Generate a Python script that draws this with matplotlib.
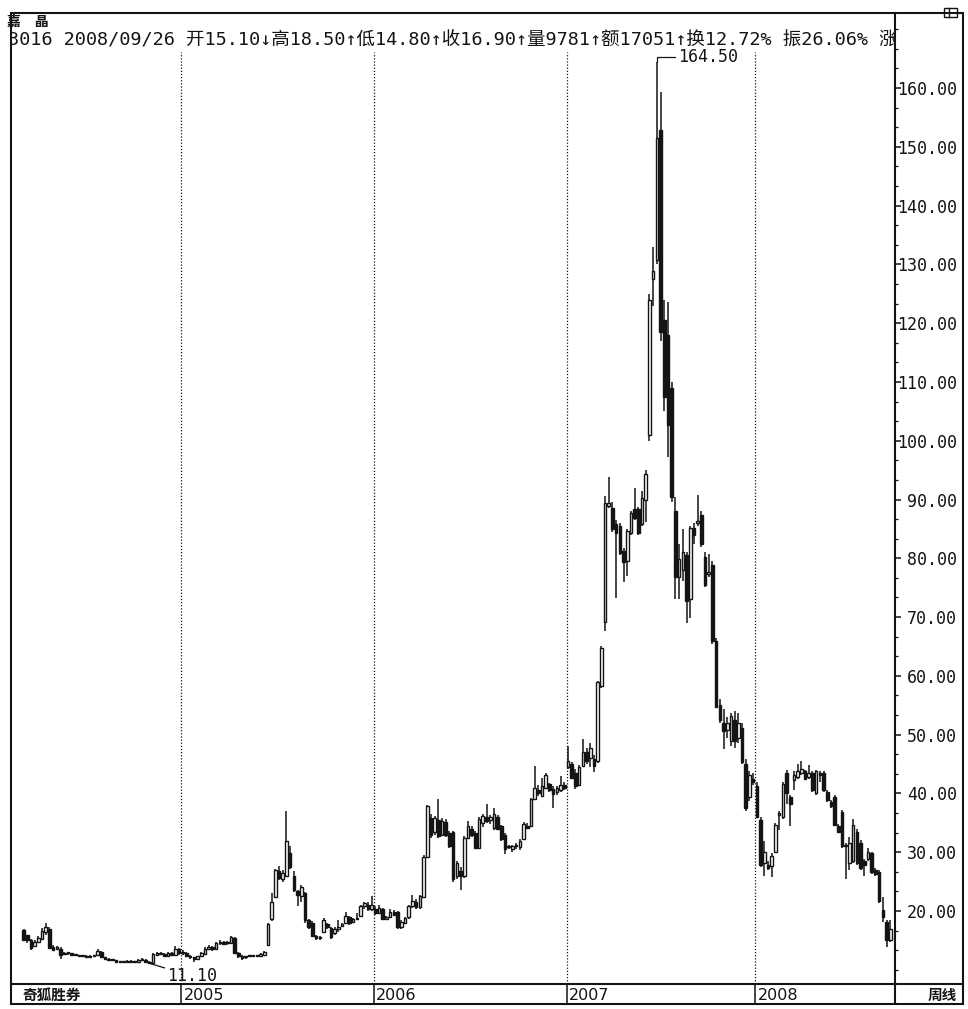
import numpy as np
import matplotlib.pyplot as plt
from matplotlib.patches import Rectangle

# weekly bars of 3016 嘉晶, early 2004 .. 2008/09/26
opens = [
    # 2004
    16.8, 15.9, 15.1, 14.0, 14.8, 15.2, 16.4, 17.0, 13.9, 13.5, 13.6, 12.7, 12.9, 12.8, 12.6,
    12.5, 12.3, 12.4, 12.2, 12.4, 12.5, 13.0, 12.1, 11.9, 11.7, 11.6, 11.4, 11.3, 11.4, 11.5,
    11.3, 11.4, 11.7, 11.6, 11.3, 11.2, 12.6, 12.8, 12.7, 12.4, 12.9, 12.6, 13.5,
    # 2005
    12.8, 12.8, 12.3, 12.1, 11.9, 12.3, 12.7, 13.6, 13.8, 13.6, 14.5, 14.7, 14.6, 14.6, 15.4,
    12.9, 12.3, 12.1, 12.3, 12.3, 12.4, 12.4, 12.6, 14.2, 18.6, 22.4, 26.8, 25.4, 26.0, 29.8,
    26.0, 23.4, 22.6, 23.0, 18.4, 18.0, 15.8, 15.4, 16.5, 17.8, 17.1, 16.2, 17.0, 17.4, 17.9,
    19.0, 18.1, 18.6, 19.2, 20.8, 21.0, 20.4,
    # 2006
    20.4, 19.7, 20.3, 18.6, 19.0, 19.8, 19.8, 17.2, 18.0, 18.9, 20.8, 21.6, 20.6, 22.4, 29.2,
    35.9, 33.5, 35.5, 33.0, 35.2, 33.3, 33.4, 25.9, 26.8, 26.0, 32.5, 34.0, 33.3, 30.8, 35.0,
    36.0, 35.5, 34.2, 36.0, 34.5, 33.0, 30.9, 30.5, 31.0, 30.9, 32.2, 34.5, 34.5, 39.0, 40.5,
    39.6, 41.0, 41.6, 40.8, 40.2, 40.6, 41.5,
    # 2007
    44.5, 45.0, 43.5, 41.5, 44.7, 47.0, 46.0, 45.8, 45.6, 58.3, 69.1, 88.9, 88.6, 85.8, 85.5,
    81.2, 79.5, 84.3, 88.3, 88.3, 85.8, 90.0, 101.0, 127.5, 130.7, 152.9, 120.6, 118.0, 109.0, 88.0,
    76.8, 78.0, 80.5, 73.0, 85.2, 86.0, 87.4, 80.2, 77.4, 78.9, 65.9, 55.0, 51.9, 50.8, 49.0,
    52.5, 49.5, 51.2, 45.0, 39.4, 42.5,
    # 2008
    41.3, 35.4, 28.2, 27.9, 27.6, 30.1, 36.3, 36.0, 43.5, 39.4, 42.2, 42.8, 43.5, 43.8, 42.8,
    43.5, 40.0, 43.5, 43.5, 40.3, 38.5, 39.4, 34.4, 36.9, 31.0, 28.2, 28.5, 33.5, 31.6, 28.5,
    28.8, 29.8, 27.0, 26.6, 20.1, 18.2, 15.1,
]
highs = [
    17.0, 16.0, 15.2, 15.0, 15.7, 17.1, 17.9, 17.2, 14.2, 14.1, 13.8, 13.1, 13.1, 12.9, 12.7,
    12.6, 12.5, 12.5, 12.5, 12.6, 13.5, 13.2, 12.2, 12.0, 11.8, 11.7, 11.5, 11.5, 11.6, 11.6,
    11.5, 11.8, 12.0, 11.8, 11.5, 12.8, 13.0, 13.0, 12.8, 13.0, 13.0, 14.0, 13.7,
    13.3, 13.0, 12.6, 12.2, 12.4, 13.0, 13.8, 14.3, 14.0, 14.8, 15.0, 14.9, 14.9, 15.8, 15.6,
    13.1, 12.5, 12.4, 12.4, 12.5, 12.6, 12.8, 13.2, 18.0, 23.0, 27.2, 27.6, 27.0, 37.0, 31.0,
    26.8, 23.6, 24.5, 23.2, 18.6, 18.3, 16.0, 15.8, 18.8, 18.0, 17.2, 17.2, 18.5, 18.0, 19.8,
    19.2, 18.8, 19.6, 21.0, 21.6, 21.5, 22.6,
    20.8, 21.0, 20.5, 19.2, 20.3, 20.2, 20.0, 18.4, 19.0, 21.1, 22.8, 22.0, 22.8, 29.5, 38.0,
    36.5, 36.2, 39.0, 35.8, 35.6, 33.6, 33.6, 28.5, 27.5, 32.8, 35.3, 34.5, 33.6, 36.0, 36.5,
    38.2, 36.4, 37.5, 36.3, 34.6, 33.3, 31.3, 31.3, 31.5, 32.2, 35.2, 35.0, 39.3, 44.6, 41.5,
    42.7, 43.5, 41.8, 41.2, 41.3, 43.0, 42.0,
    48.1, 45.3, 44.1, 44.8, 49.2, 47.8, 48.5, 46.5, 59.2, 65.0, 90.6, 93.9, 89.5, 86.5, 86.0,
    81.8, 85.0, 88.0, 92.0, 88.8, 91.5, 95.0, 125.0, 133.0, 164.5, 159.3, 124.0, 123.6, 110.0, 90.5,
    82.4, 84.9, 81.0, 85.5, 86.0, 90.8, 88.0, 81.0, 80.8, 79.5, 66.5, 56.0, 54.3, 53.0, 53.7,
    54.0, 53.7, 52.0, 45.9, 43.8, 43.5,
    42.0, 36.0, 31.9, 28.5, 29.8, 35.0, 37.0, 42.0, 44.0, 39.8, 43.8, 45.0, 45.6, 44.0, 44.8,
    43.8, 44.0, 43.8, 43.8, 40.6, 38.8, 39.8, 34.8, 37.2, 31.6, 32.6, 35.7, 34.0, 32.0, 28.8,
    30.7, 30.1, 27.3, 27.0, 22.3, 18.5, 18.5,
]
lows = [
    14.9, 14.5, 13.4, 13.8, 14.6, 15.0, 15.9, 13.5, 13.2, 13.3, 11.9, 12.5, 12.6, 12.4, 12.4,
    12.2, 12.2, 12.1, 12.1, 12.3, 12.3, 12.0, 11.8, 11.6, 11.5, 11.3, 11.2, 11.2, 11.3, 11.2,
    11.15, 11.3, 11.5, 11.2, 11.1, 11.2, 12.4, 12.5, 12.2, 12.3, 12.4, 12.5, 12.6,
    12.6, 12.2, 11.9, 11.4, 11.8, 12.2, 12.6, 13.4, 13.2, 13.5, 14.2, 14.2, 14.3, 14.4, 12.8,
    12.0, 11.6, 11.9, 12.1, 12.1, 12.2, 12.3, 12.5, 14.0, 18.3, 22.2, 25.3, 25.0, 25.8, 27.2,
    23.2, 20.9, 21.6, 18.0, 17.0, 15.6, 15.0, 15.1, 16.3, 16.9, 15.3, 16.0, 16.4, 17.2, 17.8,
    17.7, 17.9, 18.4, 19.0, 20.4, 20.0, 20.0,
    19.4, 19.5, 18.4, 18.4, 18.8, 19.1, 17.0, 17.0, 17.8, 18.7, 20.5, 20.3, 20.4, 22.2, 29.0,
    32.5, 33.0, 32.5, 32.7, 32.6, 30.8, 25.0, 25.5, 23.5, 25.6, 32.2, 32.6, 30.6, 30.5, 34.3,
    35.0, 34.8, 33.8, 33.7, 31.9, 29.7, 30.5, 30.0, 30.6, 30.4, 32.0, 33.9, 34.3, 38.8, 39.6,
    39.4, 40.8, 40.2, 37.6, 39.8, 40.3, 40.5,
    44.2, 42.5, 40.8, 41.2, 44.5, 45.0, 44.5, 43.6, 45.2, 58.0, 67.6, 88.5, 84.5, 73.3, 80.5,
    76.0, 77.0, 84.0, 86.5, 84.0, 85.5, 86.2, 100.0, 123.0, 130.0, 117.0, 105.0, 97.3, 89.5, 73.0,
    73.0, 76.1, 69.0, 69.9, 82.5, 85.5, 82.0, 75.2, 76.8, 65.5, 54.5, 52.0, 47.5, 49.5, 48.1,
    47.8, 48.5, 45.0, 37.0, 38.7, 41.5,
    35.8, 27.5, 26.0, 27.0, 25.7, 29.8, 33.8, 35.7, 38.2, 34.4, 40.6, 42.5, 43.2, 42.2, 42.5,
    40.3, 39.8, 41.9, 40.3, 38.5, 37.5, 34.4, 33.2, 30.7, 25.4, 27.0, 28.2, 27.8, 27.0, 26.0,
    28.5, 26.3, 26.0, 21.4, 18.2, 13.9, 14.8,
]
closes = [
    15.1, 15.1, 13.7, 14.8, 15.4, 16.6, 17.2, 13.7, 13.4, 13.9, 12.6, 12.9, 12.8, 12.6, 12.5,
    12.3, 12.4, 12.2, 12.4, 12.5, 13.2, 12.1, 11.9, 11.7, 11.6, 11.4, 11.3, 11.4, 11.5, 11.3,
    11.4, 11.7, 11.6, 11.3, 11.2, 12.7, 12.8, 12.7, 12.4, 12.9, 12.6, 13.6, 12.8,
    12.9, 12.3, 12.1, 11.9, 12.3, 12.8, 13.6, 13.9, 13.5, 14.6, 14.8, 14.4, 14.7, 15.5, 12.9,
    12.3, 12.0, 12.3, 12.3, 12.4, 12.3, 12.7, 13.1, 17.8, 21.5, 27.0, 25.6, 26.5, 31.9, 27.5,
    23.5, 22.7, 24.0, 18.4, 17.3, 15.8, 15.4, 15.6, 18.5, 17.2, 15.5, 17.0, 17.2, 17.8, 19.2,
    18.0, 18.6, 18.8, 20.8, 21.4, 20.4, 21.0,
    19.6, 20.5, 18.6, 19.0, 19.8, 19.3, 17.3, 18.1, 18.8, 20.9, 21.7, 20.6, 22.5, 29.2, 37.8,
    33.0, 35.8, 32.8, 35.3, 33.0, 31.1, 25.4, 28.2, 26.0, 32.5, 34.5, 33.0, 30.8, 35.6, 36.2,
    35.3, 36.0, 36.5, 34.0, 32.2, 30.5, 31.0, 31.0, 31.2, 31.9, 34.8, 34.1, 39.0, 41.0, 40.0,
    41.3, 43.2, 40.5, 39.9, 41.0, 41.5, 41.0,
    45.5, 42.7, 41.3, 44.5, 47.0, 45.5, 47.8, 44.6, 58.9, 64.8, 89.4, 89.4, 84.9, 84.3, 80.9,
    79.3, 84.6, 87.7, 86.9, 84.3, 90.3, 94.3, 124.0, 128.8, 151.5, 118.5, 107.5, 102.6, 90.5, 76.8,
    79.9, 81.1, 72.7, 85.2, 84.0, 86.4, 82.4, 75.5, 77.6, 65.9, 54.7, 52.5, 50.6, 52.0, 53.2,
    49.0, 52.0, 45.3, 37.5, 43.1, 41.9,
    36.0, 27.9, 30.1, 27.3, 29.4, 34.7, 36.6, 41.6, 40.0, 38.2, 43.1, 43.8, 44.1, 42.5, 43.5,
    40.6, 43.8, 43.1, 40.6, 38.8, 37.8, 34.7, 33.5, 31.0, 31.3, 31.6, 34.7, 28.2, 27.3, 27.9,
    30.1, 26.6, 26.3, 21.7, 18.9, 15.1, 16.9,
]

years = ['2005', '2006', '2007', '2008']
year_start = [43, 95, 147, 198]          # first weekly bar of each year
price_ticks = list(range(20, 170, 10))
stock_name = '嘉\u3000晶'
info_line = '3016 2008/09/26 开15.10↓高18.50↑低14.80↑收16.90↑量9781↑额17051↑换12.72% 振26.06% 涨'
footer_left = '奇狐胜券'
footer_right = '周线'

W, H = 968, 1009
INK = '#141414'
CJK = ['Noto Sans CJK SC', 'DejaVu Sans']
MONO = ['DejaVu Sans Mono', 'Noto Sans CJK SC']


def fx(px):
    return px / W


def fy(py):
    return 1 - py / H


fig = plt.figure(figsize=(W / 100, H / 100), dpi=100)
fig.patch.set_facecolor('white')

# main price panel (pixel layout of the scan)
L_PX, R_PX, T_PX, B_PX, F_PX = 11, 895, 13, 984, 1004
ax = fig.add_axes([fx(L_PX), fy(B_PX), (R_PX - L_PX) / W, (B_PX - T_PX) / H])
step = 3.704                       # px per weekly bar
x0 = 23.5                          # px of first bar
px_per_unit = (911 - 88) / 140.0   # 20.00 at y=911, 160.00 at y=88
xlim = ((L_PX - x0) / step, (R_PX - x0) / step)
ylim = (20 - (B_PX - 911) / px_per_unit, 160 + (88 - T_PX) / px_per_unit)
ax.set_xlim(*xlim)
ax.set_ylim(*ylim)

o = np.array(opens)
h = np.array(highs)
l = np.array(lows)
c = np.array(closes)
x = np.arange(len(c))
up = c >= o
body_lo = np.minimum(o, c)
body_h = np.maximum(np.abs(c - o), 0.15)

ax.vlines(x, l, h, color=INK, lw=1.1, zorder=2)
ax.bar(x[up], body_h[up], bottom=body_lo[up], width=0.7, facecolor='white',
       edgecolor=INK, linewidth=1.0, zorder=3)
ax.bar(x[~up], body_h[~up], bottom=body_lo[~up], width=0.7, facecolor=INK,
       edgecolor=INK, linewidth=1.0, zorder=3)

# year separators (dotted)
for ys in year_start:
    ax.axvline(ys - 0.4, ymin=0, ymax=(B_PX - 52) / (B_PX - T_PX), color=INK,
               lw=0.9, linestyle=(0, (1, 1.5)), zorder=1)

# price axis on the right
for side in ['left', 'top', 'bottom']:
    ax.spines[side].set_visible(False)
ax.spines['right'].set_color(INK)
ax.spines['right'].set_linewidth(1.5)
ax.set_xticks([])
ax.yaxis.tick_right()
ax.set_yticks(price_ticks)
ax.set_yticklabels(['%.2f' % v for v in price_ticks], family=MONO, fontsize=12,
                   color=INK, ha='right')
ax.set_yticks(np.arange(10, 172, 10 / 3.0), minor=True)
ax.tick_params(axis='y', which='major', direction='out', length=4, width=1.1,
               color=INK, pad=40.5)
ax.tick_params(axis='y', which='minor', direction='out', length=2.5, width=0.9,
               color=INK)

# highest / lowest marks
ip = int(np.argmax(h))
ax.annotate('%.2f' % h[ip], xy=(ip, h[ip]), xytext=(21, 5), textcoords='offset pixels',
            va='center', ha='left', family=MONO, fontsize=12, color=INK,
            arrowprops=dict(arrowstyle='-', color=INK, lw=0.9, shrinkA=0, shrinkB=0,
                            connectionstyle='angle,angleA=0,angleB=90,rad=0'))
il = int(np.argmin(l))
ax.annotate('%.2f' % l[il], xy=(il, l[il]), xytext=(18, -13), textcoords='offset pixels',
            va='center', ha='left', family=MONO, fontsize=12, color=INK,
            arrowprops=dict(arrowstyle='-', color=INK, lw=0.9, shrinkA=0, shrinkB=0))

# header inside the frame, clipped at the price axis
ax.text(fx(7), fy(22), stock_name, transform=fig.transFigure, family=CJK,
        fontsize=10, fontweight='bold', color=INK, va='center', ha='left')
ax.text(fx(8), fy(40), info_line, transform=fig.transFigure, family=MONO,
        fontsize=13.3, color=INK, va='center', ha='left', clip_on=True)

# bottom strip with the years
sx = fig.add_axes([fx(L_PX), fy(F_PX), (963 - L_PX) / W, (F_PX - B_PX) / H])
sx.set_xlim(xlim[0], (963 - x0) / step)
sx.set_ylim(0, 1)
sx.axis('off')
for ys, lab in zip(year_start, years):
    sx.axvline(ys - 0.4, color=INK, lw=1.1)
    sx.text(ys + 0.2, 0.45, lab, family=['Liberation Sans Narrow', 'DejaVu Sans'],
            fontsize=11.5, color=INK, va='center', ha='left')
sx.axvline(xlim[1], color=INK, lw=1.5)
sx.text(xlim[0] + 3, 0.45, footer_left, family=CJK, fontsize=10.5, fontweight='bold',
        color=INK, va='center', ha='left')
sx.text((957 - x0) / step, 0.45, footer_right, family=CJK, fontsize=10.5,
        fontweight='bold', color=INK, va='center', ha='right')

# outer frame and strip line
fig.add_artist(Rectangle((fx(L_PX), fy(F_PX)), (963 - L_PX) / W, (F_PX - T_PX) / H,
                         transform=fig.transFigure, fill=False, edgecolor=INK, lw=1.5))
fig.add_artist(plt.Line2D([fx(L_PX), fx(963)], [fy(B_PX), fy(B_PX)],
                          transform=fig.transFigure, color=INK, lw=1.5))

# small window icon at top right
fig.add_artist(Rectangle((fx(944), fy(17)), 13 / W, 9 / H, transform=fig.transFigure,
                         fill=False, edgecolor=INK, lw=1.0))
fig.add_artist(plt.Line2D([fx(949), fx(949)], [fy(17), fy(8)],
                          transform=fig.transFigure, color=INK, lw=1.0))

fig.savefig('out.png', dpi=100, facecolor='white')
